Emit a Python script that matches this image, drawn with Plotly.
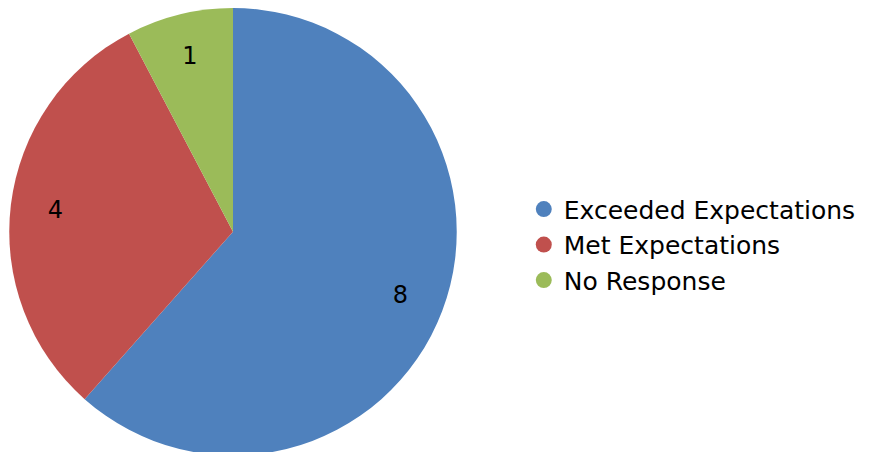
import plotly.graph_objects as go

labels = ['Exceeded Expectations', 'Met Expectations', 'No Response']
values = [8, 4, 1]
colors = ['#4F81BD', '#C0504D', '#9BBB59']

pie_domain = dict(x=[1 / 872, 449 / 872], y=[0.01, 1.0])

fig = go.Figure()
# filled pie, no text
fig.add_trace(go.Pie(
    labels=labels,
    values=values,
    sort=False,
    direction='clockwise',
    rotation=0,
    marker=dict(colors=colors, line=dict(width=0)),
    textinfo='none',
    domain=pie_domain,
    showlegend=False,
    hoverinfo='label+value+percent',
))
# transparent ring on top, only to place value labels further out
fig.add_trace(go.Pie(
    labels=labels,
    values=values,
    sort=False,
    direction='clockwise',
    rotation=0,
    hole=0.6,
    marker=dict(colors=['rgba(0,0,0,0)'] * 3, line=dict(width=0)),
    textinfo='value',
    textposition='inside',
    insidetextorientation='horizontal',
    textfont=dict(size=24, color='black', family='DejaVu Sans'),
    domain=pie_domain,
    showlegend=False,
    hoverinfo='skip',
))

# legend entries with round markers
for lab, clr in zip(labels, colors):
    fig.add_trace(go.Scatter(
        x=[None], y=[None], name=lab, mode='markers',
        marker=dict(symbol='circle', size=26, color=clr),
    ))

fig.update_layout(
    width=872,
    height=452,
    margin=dict(l=0, r=0, t=0, b=0),
    paper_bgcolor='white',
    plot_bgcolor='white',
    font=dict(family='DejaVu Sans', size=25, color='black'),
    xaxis=dict(visible=False),
    yaxis=dict(visible=False),
    legend=dict(
        x=0.5915, y=0.476, xanchor='left', yanchor='middle',
        font=dict(size=25, color='black'),
        itemsizing='trace',
        tracegroupgap=0,
        bgcolor='rgba(0,0,0,0)',
    ),
)

fig.write_html('out.html')
